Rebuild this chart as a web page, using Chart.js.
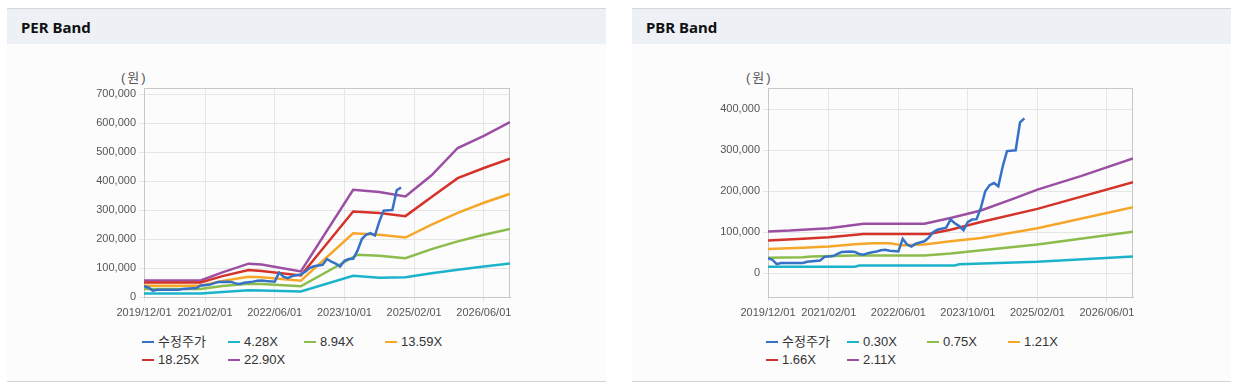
<!DOCTYPE html>
<html>
<head>
<meta charset="utf-8">
<script src="https://cdn.jsdelivr.net/npm/chart.js@4.4.1/dist/chart.umd.min.js"></script>
<style>
body { margin: 0; width: 1235px; height: 385px; background: #fff; position: relative; overflow: hidden;
       font-family: "Liberation Sans", Arial, "Noto Sans CJK KR", sans-serif; }
.panel { position: absolute; top: 8px; height: 372px; background: #fcfcfd;
         border-top: 1px solid #d6d6d6; border-bottom: 1px solid #d3d3d3; }
.panel .hd { height: 35px; background: #edf1f6; font-family: "Noto Sans", "Liberation Sans", sans-serif;
             font-weight: bold; font-size: 15px; line-height: 36px; padding-left: 14px; color: #111; }
.unit { position: absolute; top: 67px; font-size: 13px; color: #555; letter-spacing: 2px; }
canvas { position: absolute; }
.lg { position: absolute; font-size: 13px; color: #333; white-space: nowrap; line-height: 16px; }
.lg i { display: inline-block; width: 12px; height: 2px; vertical-align: middle; margin-right: 4px; position: relative; top: -1px; }
</style>
</head>
<body>
<div class="panel" style="left:7px;width:599px;"><div class="hd">PER Band</div></div>
<div class="panel" style="left:632px;width:599px;"><div class="hd">PBR Band</div></div>
<div class="unit" style="left:121px;">(원)</div>
<div class="unit" style="left:746px;">(원)</div>
<canvas id="perChart" width="480" height="265" style="left:40px;top:60px;"></canvas>
<canvas id="pbrChart" width="485" height="265" style="left:660px;top:60px;"></canvas>
<div id="perLegend"></div>
<div id="pbrLegend"></div>
<script>
// x = months since 2019/12
const xTickMonths = [0, 14, 30, 46, 62, 78];
const xTickLabels = ['2019/12/01', '2021/02/01', '2022/06/01', '2023/10/01', '2025/02/01', '2026/06/01'];
const perTicks = [0, 100000, 200000, 300000, 400000, 500000, 600000, 700000];
const pbrTicks = [0, 100000, 200000, 300000, 400000];

const colors = ['#3572c6', '#1bb3c9', '#8cbc4c', '#f6a72a', '#d5322a', '#9b4fa3'];
const perLabels = ['수정주가', '4.28X', '8.94X', '13.59X', '18.25X', '22.90X'];
const pbrLabels = ['수정주가', '0.30X', '0.75X', '1.21X', '1.66X', '2.11X'];

// 수정주가 [month, 원]
const price = [[0,37000],[1,33000],[2,22000],[3,25000],[8,25000],[9,28000],[12,31000],[13,40000],[15,42000],
  [16,47000],[17,52000],[19,53000],[20,52000],[21,47000],[22,45000],[23,49000],[24,51000],[25,53000],
  [26,56000],[27,57000],[28,55000],[30,53000],[31,84000],[32,70000],[33,65000],[34,72000],[35,75000],
  [36,78000],[37,87000],[38,100000],[39,106000],[41,111000],[42,131000],[43,122000],[44,115000],
  [45,105000],[46,125000],[47,131000],[48,132000],[49,160000],[50,200000],[51,215000],[52,220000],
  [53,212000],[54,260000],[55,298000],[57,300000],[58,368000],[59,378000]];

// PER bands
const per428 = [[0,12000],[13,12000],[18,17000],[24,23000],[27,22000],[36,19000],[48,73000],[54,66000],[60,68000],[66,82000],[72,94000],[78,105000],[84,116000]];
const per894 = [[0,28000],[13,28000],[18,38000],[24,46000],[27,45000],[36,37000],[49,146000],[54,142000],[60,134000],[66,165000],[72,192000],[78,215000],[84,235000]];
const per1359 = [[0,39000],[13,39000],[18,55000],[24,70000],[27,68000],[36,56000],[48,220000],[54,215000],[60,205000],[66,250000],[72,290000],[78,325000],[84,356000]];
const per1825 = [[0,50000],[13,50000],[18,72000],[24,93000],[27,90000],[36,74000],[48,295000],[54,290000],[60,279000],[66,345000],[72,410000],[78,445000],[84,477000]];
const per2290 = [[0,57000],[13,57000],[18,85000],[24,115000],[27,112000],[36,88000],[48,370000],[54,362000],[60,347000],[66,420000],[72,514000],[78,556000],[84,603000]];

// PBR bands
const pbr030 = [[0,16000],[20,16000],[21,19000],[43,19000],[44,22000],[62,28000],[84,41000]];
const pbr075 = [[0,38000],[8,39000],[10,41000],[20,43000],[36,43000],[42,48000],[62,70000],[84,101000]];
const pbr121 = [[0,59000],[8,62000],[14,65000],[20,71000],[24,73000],[28,73000],[31,68000],[36,70000],[42,78000],[49,86000],[62,110000],[84,161000]];
const pbr166 = [[0,80000],[8,84000],[14,88000],[22,96000],[37,96000],[42,106000],[49,125000],[62,157000],[84,222000]];
const pbr211 = [[0,102000],[5,104000],[8,106000],[14,110000],[18,115000],[22,121000],[36,121000],[42,135000],[49,153000],[57,184000],[62,204000],[72,237000],[84,280000]];

const plotBorder = {
    id: 'plotBorder',
    beforeDatasetsDraw(chart) {
        const a = chart.chartArea;
        const ctx = chart.ctx;
        ctx.save();
        ctx.strokeStyle = '#c8c8c8';
        ctx.lineWidth = 1;
        ctx.strokeRect(Math.round(a.left) + 0.5, Math.round(a.top) + 0.5,
            Math.round(a.right - a.left) - 1, Math.round(a.bottom - a.top));
        ctx.restore();
    }
};

function makeChart(id, series, labels, yTicks, yMin, yMax, yWidth, padRight) {
    const datasets = series.map((s, i) => ({
        label: labels[i],
        data: s.map(p => ({ x: p[0], y: p[1] })),
        borderColor: colors[i],
        backgroundColor: colors[i],
        borderWidth: 2.5,
        pointRadius: 0,
        tension: 0
    }));
    return new Chart(document.getElementById(id), {
        type: 'line',
        data: { datasets },
        options: {
            responsive: false,
            animation: false,
            layout: { padding: { top: 28, right: padRight, left: 0, bottom: 0 } },
            plugins: { legend: { display: false }, tooltip: { enabled: false } },
            scales: {
                x: {
                    type: 'linear', min: 0, max: 84,
                    afterBuildTicks: axis => { axis.ticks = xTickMonths.map(v => ({ value: v })); },
                    afterFit: axis => { axis.height = 28; },
                    grid: { color: '#e6e6e6', tickLength: 5 },
                    border: { color: '#c8c8c8' },
                    ticks: {
                        autoSkip: false, maxRotation: 0, padding: 4,
                        color: '#555', font: { size: 11, family: '"Liberation Sans", Arial' },
                        callback: v => xTickLabels[xTickMonths.indexOf(v)]
                    }
                },
                y: {
                    min: yMin, max: yMax,
                    afterBuildTicks: axis => { axis.ticks = yTicks.map(v => ({ value: v })); },
                    afterFit: axis => { axis.width = yWidth; },
                    grid: { color: '#e6e6e6', tickLength: 5 },
                    border: { color: '#c8c8c8' },
                    ticks: {
                        padding: 3, color: '#555', font: { size: 11, family: '"Liberation Sans", Arial' },
                        callback: v => v.toLocaleString('en-US')
                    }
                }
            }
        },
        plugins: [plotBorder]
    });
}

function makeLegend(id, labels, left, cols) {
    const box = document.getElementById(id);
    labels.forEach((t, i) => {
        const d = document.createElement('div');
        d.className = 'lg';
        d.style.left = (left + cols[i % 4]) + 'px';
        d.style.top = (i < 4 ? 334 : 352) + 'px';
        d.innerHTML = '<i style="background:' + colors[i] + '"></i>' + t;
        box.appendChild(d);
    });
}

makeChart('perChart', [price, per428, per894, per1359, per1825, per2290], perLabels, perTicks, 0, 721000, 104, 10);
makeChart('pbrChart', [price, pbr030, pbr075, pbr121, pbr166, pbr211], pbrLabels, pbrTicks, -58000, 452000, 108, 12);
makeLegend('perLegend', perLabels, 142, [0, 86, 162, 243]);
makeLegend('pbrLegend', pbrLabels, 766, [0, 81, 161, 242]);
</script>
</body>
</html>
